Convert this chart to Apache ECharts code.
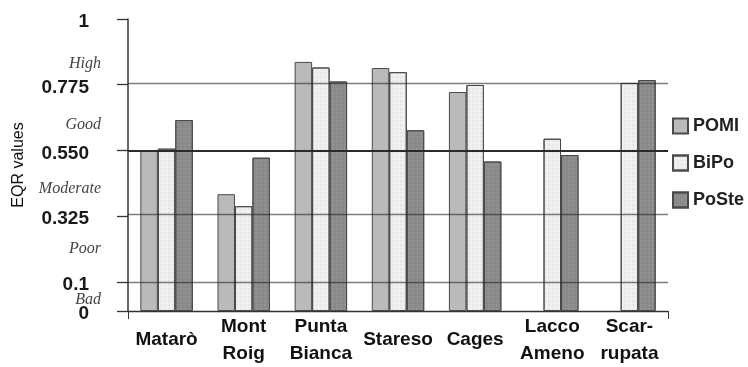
<!DOCTYPE html>
<html>
<head>
<meta charset="utf-8">
<script src="https://cdn.jsdelivr.net/npm/echarts@6/dist/echarts.min.js"></script>
<style>html,body{margin:0;padding:0;background:#fff}#c{width:748px;height:367px}</style>
</head>
<body>
<div id="c"></div>
<script>
var categories = ['Matarò', 'Mont\nRoig', 'Punta\nBianca', 'Stareso', 'Cages', 'Lacco\nAmeno', 'Scar-\nrupata'];
var seriesNames = ['POMI', 'BiPo', 'PoSte'];
var pomi  = [0.550, 0.400, 0.853, 0.832, 0.750, null, null];
var bipo  = [0.556, 0.359, 0.834, 0.818, 0.774, 0.590, 0.781];
var poste = [0.654, 0.525, 0.786, 0.619, 0.512, 0.534, 0.791];
var tickValues = [0, 0.1, 0.325, 0.55, 0.775, 1];
var tickLabels = ['0', '0.1', '0.325', '0.550', '0.775', '1'];
var classNames = ['Bad', 'Poor', 'Moderate', 'Good', 'High'];
var classPositions = [0.052, 0.228, 0.432, 0.652, 0.859];
var gridValues = [0.1, 0.325, 0.55, 0.775];

var FONT = "'Liberation Sans', Arial, sans-serif";
var SERIF = "'Liberation Serif', 'Times New Roman', serif";
var chart = echarts.init(document.getElementById('c'), null, {renderer: 'canvas'});

var gridLines = gridValues.map(function (v) {
  var major = Math.abs(v - 0.55) < 1e-9;
  return {
    yAxis: v,
    lineStyle: major ? {color: '#2a2a2a', width: 2, type: 'solid'} : {color: 'rgba(40,40,40,0.6)', width: 1.3, type: 'solid'}
  };
});

var option = {
  animation: false,
  backgroundColor: '#ffffff',
  grid: {left: 128, right: 80, top: 19, bottom: 51, containLabel: false},
  legend: {
    orient: 'vertical',
    left: 667,
    top: 112,
    itemWidth: 15,
    itemHeight: 15,
    itemGap: 19,
    icon: 'rect',
    textStyle: {fontFamily: FONT, fontWeight: 'bold', fontSize: 18, color: '#222'},
    data: seriesNames
  },
  xAxis: {
    type: 'category',
    data: categories,
    axisLine: {show: true, lineStyle: {color: '#333', width: 1.3}},
    axisTick: {show: true, length: 8, interval: function (i) { return i === 0; }, lineStyle: {color: '#333'}},
    axisLabel: {
      fontFamily: FONT, fontWeight: 'bold', fontSize: 19, color: '#111',
      lineHeight: 27, margin: 29, verticalAlign: 'middle', interval: 0
    }
  },
  yAxis: [
    {
      type: 'value', min: 0, max: 1,
      name: 'EQR values', nameLocation: 'middle', nameGap: 101, nameRotate: 90,
      nameTextStyle: {fontFamily: FONT, fontSize: 16, color: '#111'},
      axisLine: {show: true, lineStyle: {color: '#333', width: 1.5}},
      axisTick: {show: true, inside: false, length: 11, customValues: tickValues, lineStyle: {color: '#333', width: 1.3}},
      axisLabel: {
        customValues: tickValues,
        margin: 39,
        formatter: function (v) {
          for (var i = 0; i < tickValues.length; i++) if (Math.abs(tickValues[i] - v) < 1e-9) return '{t|' + tickLabels[i] + '}';
          return '';
        },
        rich: {t: {fontFamily: FONT, fontWeight: 'bold', fontSize: 19, color: '#1a1a1a', padding: [6, 0, 0, 0]}}
      },
      splitLine: {show: false}
    },
    {
      type: 'value', min: 0, max: 1, position: 'left',
      axisLine: {show: false}, axisTick: {show: false}, splitLine: {show: false},
      axisLabel: {
        customValues: classPositions,
        margin: 27,
        formatter: function (v) {
          for (var i = 0; i < classPositions.length; i++) if (Math.abs(classPositions[i] - v) < 1e-9) return '{c|' + classNames[i] + '}';
          return '';
        },
        rich: {c: {fontFamily: SERIF, fontStyle: 'italic', fontSize: 16, color: '#444', padding: [8, 0, 0, 0]}}
      }
    }
  ],
  series: [
    {
      name: 'POMI', type: 'bar', data: pomi, barGap: '0%', barCategoryGap: '32%',
      itemStyle: {color: '#bababa', borderColor: '#4a4a4a', borderWidth: 1},
      markLine: {silent: true, symbol: 'none', label: {show: false}, z: 10, data: gridLines}
    },
    {
      name: 'BiPo', type: 'bar', data: bipo, barGap: '0%', barCategoryGap: '32%',
      itemStyle: {
        color: '#f0f0f0', borderColor: '#4a4a4a', borderWidth: 1,
        decal: {symbol: 'rect', symbolSize: 0.6, color: '#cfcfcf', dashArrayX: [[2, 2]], dashArrayY: [2, 2], rotation: 0}
      }
    },
    {
      name: 'PoSte', type: 'bar', data: poste, barGap: '0%', barCategoryGap: '32%',
      itemStyle: {
        color: '#8a8a8a', borderColor: '#4a4a4a', borderWidth: 1,
        decal: {symbol: 'rect', symbolSize: 0.6, color: '#a5a5a5', dashArrayX: [[2, 2]], dashArrayY: [2, 2], rotation: 0}
      }
    }
  ]
};
chart.setOption(option);
</script>
</body>
</html>
